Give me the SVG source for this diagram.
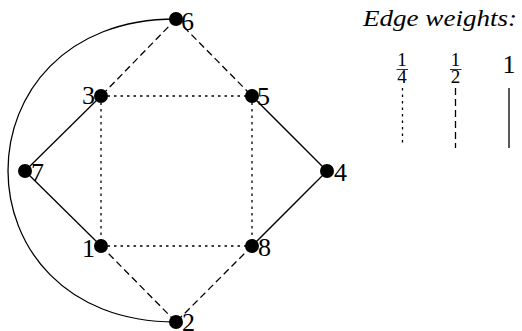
<svg xmlns="http://www.w3.org/2000/svg" width="522" height="331" viewBox="0 0 522 331">
<style>
.e{stroke:#000;stroke-width:1.3;fill:none}
.dash{stroke-dasharray:7 4}
.dot{stroke-dasharray:2.5 4}
.n{fill:#000}
.l{font-family:"Liberation Serif","DejaVu Serif",serif;font-size:26px;fill:#000}
.f{font-family:"Liberation Serif","DejaVu Serif",serif;font-size:19px;fill:#000;text-anchor:middle}
</style>
<rect width="522" height="331" fill="#fff"/>
<g id="connectors">
<path class="e" d="M176,19 C-48,19 -48,322 176,322"/>
<line class="e dash" x1="176" y1="19" x2="101" y2="96"/>
<line class="e dash" x1="176" y1="19" x2="252" y2="96"/>
<line class="e dot" x1="101" y1="96" x2="252" y2="96"/>
<line class="e" x1="101" y1="96" x2="25" y2="171"/>
<line class="e dot" x1="101" y1="96" x2="101" y2="246"/>
<line class="e" x1="252" y1="96" x2="327" y2="171"/>
<line class="e dot" x1="252" y1="96" x2="252" y2="246"/>
<line class="e" x1="25" y1="171" x2="101" y2="246"/>
<line class="e" x1="327" y1="171" x2="252" y2="246"/>
<line class="e dot" x1="101" y1="246" x2="252" y2="246"/>
<line class="e dash" x1="101" y1="246" x2="176" y2="322"/>
<line class="e dash" x1="252" y1="246" x2="176" y2="322"/>
</g>
<g id="n6"><circle class="n" cx="176" cy="19" r="7"/><text class="l" x="181" y="30">6</text></g>
<g id="n3"><circle class="n" cx="101" cy="96" r="7"/><text class="l" x="95" y="104" text-anchor="end">3</text></g>
<g id="n5"><circle class="n" cx="252" cy="96" r="7"/><text class="l" x="257" y="105">5</text></g>
<g id="n7"><circle class="n" cx="25" cy="171" r="7"/><text class="l" x="31" y="181">7</text></g>
<g id="n4"><circle class="n" cx="327" cy="171" r="7"/><text class="l" x="334" y="181">4</text></g>
<g id="n1"><circle class="n" cx="101" cy="246" r="7"/><text class="l" x="95" y="257" text-anchor="end">1</text></g>
<g id="n8"><circle class="n" cx="252" cy="246" r="7"/><text class="l" x="258" y="256">8</text></g>
<g id="n2"><circle class="n" cx="176" cy="322" r="7"/><text class="l" x="182" y="331">2</text></g>
<g id="legend">
<text x="363" y="26" font-family="Liberation Serif,DejaVu Serif,serif" font-style="italic" font-size="23" textLength="154" lengthAdjust="spacingAndGlyphs">Edge weights:</text>
<text class="f" x="402" y="66">1</text>
<line x1="396.5" y1="69.5" x2="408" y2="69.5" stroke="#000" stroke-width="0.8"/>
<text class="f" x="402" y="83">4</text>
<text class="f" x="455.5" y="66">1</text>
<line x1="450" y1="69.5" x2="461.5" y2="69.5" stroke="#000" stroke-width="0.8"/>
<text class="f" x="455.5" y="83">2</text>
<text class="l" x="509" y="73" text-anchor="middle">1</text>
<line class="e dot" x1="402.5" y1="88" x2="402.5" y2="146"/>
<line class="e dash" x1="455.5" y1="88" x2="455.5" y2="148"/>
<line class="e" x1="509" y1="88" x2="509" y2="148"/>
</g>
</svg>
